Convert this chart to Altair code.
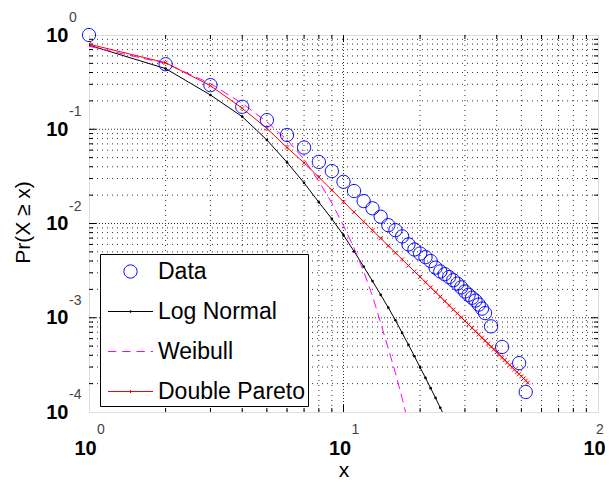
import altair as alt
import pandas as pd

FONT = "Liberation Sans"

# ---- data ----
data_x = [1, 2, 3, 4, 5, 6, 7, 8, 9, 10, 11, 12, 13, 14, 15, 16, 17, 18, 19, 20,
          21, 22, 23, 24, 25, 26, 27, 28, 29, 30, 31, 32, 33, 34, 35, 36, 38, 42, 49, 52]
data_y = [1.0, 0.49, 0.294, 0.173, 0.125, 0.087, 0.064, 0.045, 0.036, 0.0277,
          0.0221, 0.0173, 0.0145, 0.0118, 0.0096, 0.0085, 0.0073, 0.0060, 0.0053, 0.0048,
          0.0044, 0.0040, 0.0034, 0.0031, 0.0029, 0.0027, 0.0025, 0.0023, 0.0021, 0.0019,
          0.00175, 0.00163, 0.00152, 0.00138, 0.00125, 0.00112, 0.00081, 0.00049, 0.00033, 0.000163]

lognormal_x = list(range(1, 26))
lognormal_y = [0.78, 0.44, 0.231, 0.136, 0.077, 0.0445, 0.027, 0.0168, 0.0112, 0.0075,
               0.00507, 0.00349, 0.00245, 0.00175, 0.00128, 0.00094, 0.00069, 0.000517, 0.00039, 0.000297,
               0.00023, 0.000179, 0.000141, 0.000111, 0.0000889]

weibull_x = list(range(1, 19))
weibull_y = [0.76, 0.50, 0.305, 0.188, 0.12, 0.077, 0.048, 0.028, 0.0165, 0.0095,
             0.0055, 0.0031, 0.0017, 0.00088, 0.00047, 0.00026, 0.00014, 0.000075]

pareto_x = list(range(1, 54))
pareto_y = [0.80, 0.508, 0.29, 0.167, 0.102, 0.064, 0.044, 0.031, 0.0226, 0.0170,
            0.0132, 0.01048, 0.00848, 0.00697, 0.00580, 0.00489, 0.00417, 0.00358, 0.00310, 0.00271,
            0.00238, 0.00210, 0.00187, 0.00167, 0.00150, 0.00135, 0.00122, 0.00111, 0.00101, 0.000925,
            0.000848, 0.000779, 0.000719, 0.000664, 0.000614, 0.000571, 0.000531, 0.000494, 0.000461, 0.000431,
            0.000404, 0.000379, 0.000356, 0.000335, 0.000316, 0.000298, 0.000281, 0.000266, 0.000252, 0.000239,
            0.000227, 0.000215, 0.000205]

series_names = ["Data", "Log Normal", "Weibull", "Double Pareto"]
series_colors = ["#0000ff", "#000000", "#ff00ff", "#ff0000"]

x_ticks = [1, 10, 100]
x_exps = ["0", "1", "2"]
y_ticks = [1, 0.1, 0.01, 0.001, 0.0001]
y_exps = ["0", "-1", "-2", "-3", "-4"]

# ---- tables ----
df_data = pd.DataFrame({"x": data_x, "y": data_y, "series": "Data"})
df_ln = pd.DataFrame({"x": lognormal_x, "y": lognormal_y})
df_wb = pd.DataFrame({"x": weibull_x, "y": weibull_y})
df_dp = pd.DataFrame({"x": pareto_x, "y": pareto_y})

minor_x = [k * 10 ** e for e in (0, 1) for k in range(2, 10)]
major_x = [10]
minor_y = [k * 10.0 ** e for e in (-4, -3, -2, -1) for k in range(2, 10)]
major_y = [0.001, 0.01, 0.1]

W, H = 509, 377

xs = alt.Scale(type="log", domain=[1, 100], nice=False)
ys = alt.Scale(type="log", domain=[0.0001, 1], nice=False)

xaxis = alt.Axis(values=x_ticks, labelExpr="'10'", ticks=False, domain=False, grid=False,
                 labelFontSize=20, labelFontWeight="bold", labelFont=FONT, labelColor="black",
                 labelPadding=26, labelOffset=-4, labelBaseline="top", labelFlush=False,
                 labelOverlap=False, labelBound=False,
                 title="x", titleFontSize=21, titleFont=FONT, titleFontWeight="normal",
                 titleColor="black", titleY=64, titleBaseline="alphabetic")
yaxis = alt.Axis(values=y_ticks, labelExpr="'10'", ticks=False, domain=False, grid=False,
                 labelFontSize=20, labelFontWeight="bold", labelFont=FONT, labelColor="black",
                 labelPadding=21, labelBaseline="middle", labelFlush=False,
                 labelOverlap=False, labelBound=False,
                 title="Pr(X ≥ x)", titleFontSize=21, titleFont=FONT, titleFontWeight="normal",
                 titleColor="black", titleX=-66, titleY=187, titleAngle=270,
                 titleAlign="center", titleBaseline="middle")

X = alt.X("x:Q", scale=xs, axis=xaxis)
Y = alt.Y("y:Q", scale=ys, axis=yaxis)

# grid
gx_minor = alt.Chart(pd.DataFrame({"x": minor_x})).mark_rule(
    color="black", strokeDash=[1, 4], strokeWidth=1, opacity=0.8).encode(x=X)
gx_major = alt.Chart(pd.DataFrame({"x": major_x})).mark_rule(
    color="black", strokeDash=[1, 2], strokeWidth=1, opacity=0.8).encode(x=X)
gy_minor = alt.Chart(pd.DataFrame({"y": minor_y})).mark_rule(
    color="black", strokeDash=[1, 4], strokeWidth=1, opacity=0.8).encode(y=Y)
gy_major = alt.Chart(pd.DataFrame({"y": major_y})).mark_rule(
    color="black", strokeDash=[1, 2], strokeWidth=1, opacity=0.8).encode(y=Y)

# inward ticks on all four sides
def xticks(vals, ln):
    d = pd.DataFrame({"x": vals})
    b = alt.Chart(d).mark_rule(color="black").encode(x=X, y=alt.value(H), y2=alt.value(H - ln))
    t = alt.Chart(d).mark_rule(color="black").encode(x=X, y=alt.value(0), y2=alt.value(ln))
    return [b, t]

def yticks(vals, ln):
    d = pd.DataFrame({"y": vals})
    l = alt.Chart(d).mark_rule(color="black").encode(y=Y, x=alt.value(0), x2=alt.value(ln))
    r = alt.Chart(d).mark_rule(color="black").encode(y=Y, x=alt.value(W), x2=alt.value(W - ln))
    return [l, r]

tick_layers = xticks(minor_x, 4) + xticks(major_x, 7) + yticks(minor_y, 4) + yticks(major_y, 7)

# fitted curves
ln_line = alt.Chart(df_ln).mark_line(color="black", strokeWidth=1, clip=True).encode(x=X, y=Y)
ln_pts = alt.Chart(df_ln).mark_circle(color="black", size=7, opacity=1, clip=True).encode(x=X, y=Y)
wb_line = alt.Chart(df_wb).mark_line(color="#ff00ff", strokeWidth=1, strokeDash=[9, 5], clip=True).encode(x=X, y=Y)
dp_line = alt.Chart(df_dp).mark_line(color="#ff0000", strokeWidth=1, clip=True).encode(x=X, y=Y)
dp_pts = alt.Chart(df_dp).mark_point(shape="M-1,-1L1,1M-1,1L1,-1", color="#ff0000", size=16,
                                     strokeWidth=1, filled=False, opacity=1, clip=True).encode(x=X, y=Y)

# data + legend
circle_path = "M0.44,0A0.44,0.44 0 1,1 -0.44,0A0.44,0.44 0 1,1 0.44,0Z"
ln_path = "M-1.5,0L1.5,0M0.06,0A0.06,0.06 0 1,1 -0.06,0A0.06,0.06 0 1,1 0.06,0Z"
wb_path = "M-1.5,0L-0.95,0M-0.55,0L0,0M0.4,0L0.95,0M1.35,0L1.5,0"
dp_path = "M-1.5,0L1.5,0M0,-0.1L0,0.1"

legend = alt.Legend(orient="none", legendX=11, legendY=219, title=None,
                    strokeColor="black", fillColor="white", padding=2, cornerRadius=0,
                    symbolSize=900, symbolStrokeWidth=1, symbolOffset=13,
                    labelFontSize=23, labelFont=FONT, labelColor="black", labelOffset=12,
                    rowPadding=12, labelLimit=400)

pts = alt.Chart(df_data).mark_point(filled=False, size=900, strokeWidth=1, opacity=1).encode(
    x=X, y=Y,
    color=alt.Color("series:N", scale=alt.Scale(domain=series_names, range=series_colors), legend=legend),
    shape=alt.Shape("series:N", scale=alt.Scale(domain=series_names,
                                                 range=[circle_path, ln_path, wb_path, dp_path]), legend=legend),
)

# superscript exponents of tick labels
df_xexp = pd.DataFrame({"x": x_ticks, "label": x_exps})
xexp_a = alt.Chart(df_xexp.iloc[:2]).mark_text(
    fontSize=14, font=FONT, color="#444444", dx=12, baseline="middle", align="center"
).encode(x=X, y=alt.value(H + 18), text="label:N")
xexp_b = alt.Chart(df_xexp.iloc[2:]).mark_text(
    fontSize=14, font=FONT, color="#444444", dx=2, baseline="middle", align="center"
).encode(x=X, y=alt.value(H + 18), text="label:N")
yexp = alt.Chart(pd.DataFrame({"y": y_ticks, "label": y_exps})).mark_text(
    fontSize=14, font=FONT, color="#444444", dx=-20, dy=-17, baseline="middle", align="left"
).encode(y=Y, x=alt.value(0), text="label:N")

chart = alt.layer(
    gx_minor, gx_major, gy_minor, gy_major, *tick_layers,
    ln_line, ln_pts, wb_line, dp_line, dp_pts, pts, xexp_a, xexp_b, yexp
).properties(
    width=W, height=H,
    padding={"left": 81, "top": 27, "right": 7, "bottom": 72},
    autosize=alt.AutoSizeParams(type="none"),
).configure_view(stroke="black", strokeWidth=1).configure(font=FONT)

chart.save("out.html", embed_options={"renderer": "svg", "actions": False})
